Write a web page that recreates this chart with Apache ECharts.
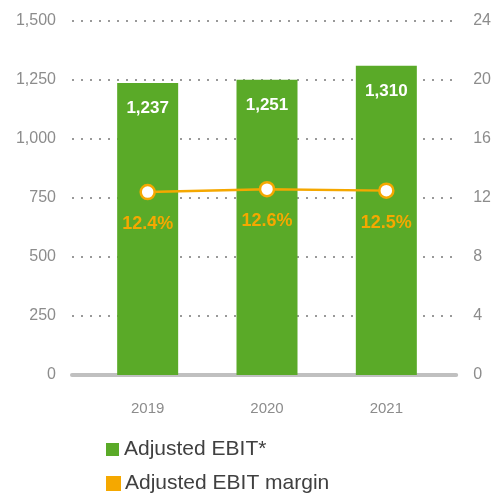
<!DOCTYPE html>
<html><head><meta charset="utf-8">
<script src="https://cdn.jsdelivr.net/npm/echarts@6/dist/echarts.min.js"></script>
<style>html,body{margin:0;padding:0;background:#fff}#c{width:494px;height:493px}</style>
</head><body><div id="c"></div>
<script>
var categories = ['2019', '2020', '2021'];
var ebitValues = [1237, 1251, 1310];
var marginValues = [12.4, 12.6, 12.5];
var leftTicks = { min: 0, max: 1500, interval: 250 };
var rightTicks = { min: 0, max: 24, interval: 4 };

var FONT = '"Liberation Sans", Arial, sans-serif';
var GREEN = '#5aaa28', ORANGE = '#f5a800', GRAY = '#8c8c8c';
var fmt = function (v) { return v.toLocaleString('en-US'); };
var legendText = { fontSize: 21, color: '#404040', fontFamily: FONT };

var chart = echarts.init(document.getElementById('c'), null, { renderer: 'canvas' });
chart.setOption({
  animation: false,
  textStyle: { fontFamily: FONT },
  grid: [
    { left: 88, right: 48, top: 21, bottom: 118 },
    { left: 72, right: 35, top: 21, bottom: 118 }
  ],
  legend: [
    { left: 101, top: 434, itemWidth: 13, itemHeight: 13, icon: 'rect', textStyle: legendText,
      data: [{ name: 'Adjusted EBIT*', itemStyle: { color: GREEN } }] },
    { left: 101, top: 468, itemWidth: 13, itemHeight: 13, icon: 'rect', textStyle: legendText,
      data: [{ name: 'Adjusted EBIT margin', itemStyle: { color: ORANGE } }] }
  ],
  xAxis: [
    { type: 'category', gridIndex: 0, data: categories,
      axisLine: { show: false }, axisTick: { show: false },
      axisLabel: { fontSize: 15, color: GRAY, margin: 26, fontFamily: FONT } },
    { type: 'category', gridIndex: 1, data: categories,
      axisLine: { show: true, lineStyle: { color: '#c0c0c0', width: 4 } },
      axisTick: { show: false }, axisLabel: { show: false }, splitLine: { show: false } }
  ],
  yAxis: [
    { type: 'value', gridIndex: 0, min: leftTicks.min, max: leftTicks.max, interval: leftTicks.interval,
      show: false },
    { type: 'value', gridIndex: 0, min: rightTicks.min, max: rightTicks.max, interval: rightTicks.interval,
      show: false },
    { type: 'value', gridIndex: 1, min: leftTicks.min, max: leftTicks.max, interval: leftTicks.interval,
      position: 'left',
      axisLine: { show: false }, axisTick: { show: false },
      axisLabel: { fontSize: 16, color: GRAY, margin: 16, fontFamily: FONT, formatter: fmt },
      splitLine: { lineStyle: { color: '#999999', type: [2, 7], width: 2 } } },
    { type: 'value', gridIndex: 1, min: rightTicks.min, max: rightTicks.max, interval: rightTicks.interval,
      position: 'right',
      axisLine: { show: false }, axisTick: { show: false },
      axisLabel: { fontSize: 16, color: GRAY, margin: 17, fontFamily: FONT },
      splitLine: { show: false } }
  ],
  series: [
    { name: 'Adjusted EBIT*', type: 'bar', xAxisIndex: 0, yAxisIndex: 0, data: ebitValues,
      barWidth: 61, itemStyle: { color: GREEN },
      label: { show: true, position: 'insideTop', distance: 17, color: '#fff', fontWeight: 'bold',
        fontSize: 17, fontFamily: FONT, formatter: function (p) { return fmt(p.value); } } },
    { name: 'Adjusted EBIT margin', type: 'line', xAxisIndex: 0, yAxisIndex: 1, data: marginValues,
      symbol: 'circle', symbolSize: 14,
      lineStyle: { color: ORANGE, width: 2.5 },
      itemStyle: { color: '#fff', borderColor: ORANGE, borderWidth: 2.5 },
      label: { show: true, position: 'bottom', distance: 15, color: ORANGE, fontWeight: 'bold',
        fontSize: 18, fontFamily: FONT, formatter: function (p) { return p.value.toFixed(1) + '%'; } },
      z: 5 }
  ]
});
</script></body></html>
